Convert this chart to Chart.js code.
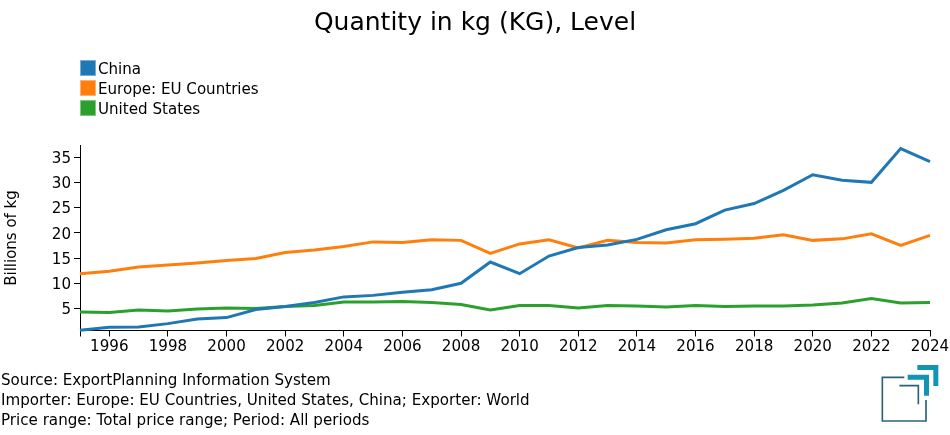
<!DOCTYPE html>
<html>
<head>
<meta charset="utf-8">
<style>
html,body{margin:0;padding:0;background:#fff;}
#wrap{position:relative;width:950px;height:435px;overflow:hidden;font-family:"DejaVu Sans",sans-serif;color:#000;}
canvas{position:absolute;left:0;top:0;}
.lg{position:absolute;left:79.5px;height:16px;font-size:15.1px;line-height:16px;white-space:nowrap;}
.lg i{position:absolute;left:0;top:0;width:14px;height:14px;border:1px solid rgba(255,255,255,.4);}
.lg span{position:absolute;left:18.5px;top:0.7px;}
.ft{position:absolute;left:1px;font-size:15.12px;line-height:20px;white-space:nowrap;}
svg{position:absolute;left:860px;top:355px;}
</style>
</head>
<body>
<div id="wrap">
<canvas id="c" width="950" height="435"></canvas>
<div id="legend"></div>
<div class="ft" style="top:369.5px">Source: ExportPlanning Information System</div>
<div class="ft" style="top:389.5px">Importer: Europe: EU Countries, United States, China; Exporter: World</div>
<div class="ft" style="top:409.5px">Price range: Total price range; Period: All periods</div>
<svg width="90" height="75" viewBox="0 0 270 225" fill="none">
<path d="M133 67H67V198H198V135" stroke="#2b6478" stroke-width="5"/>
<path d="M118 92H175V148" stroke="#2b6478" stroke-width="5"/>
<path d="M143 66.5H199.5V122" stroke="#1295b5" stroke-width="15"/>
<path d="M172 37.5H227.5V93" stroke="#1295b5" stroke-width="15"/>
</svg>
</div>
<script src="https://cdn.jsdelivr.net/npm/chart.js@4"></script>
<script>
const years = [1995,1996,1997,1998,1999,2000,2001,2002,2003,2004,2005,2006,2007,2008,2009,2010,2011,2012,2013,2014,2015,2016,2017,2018,2019,2020,2021,2022,2023,2024];
const china = [0.7,1.3,1.35,2.0,2.9,3.2,4.8,5.4,6.2,7.3,7.6,8.2,8.7,10.0,14.2,11.9,15.4,17.1,17.6,18.7,20.6,21.8,24.5,25.8,28.4,31.5,30.4,30.0,36.7,34.1];
const eu = [11.9,12.4,13.2,13.6,14.0,14.5,14.9,16.1,16.6,17.3,18.2,18.1,18.6,18.5,15.9,17.8,18.6,17.0,18.5,18.1,18.0,18.6,18.7,18.9,19.6,18.5,18.8,19.8,17.5,19.5];
const us = [4.3,4.2,4.7,4.5,4.9,5.1,5.0,5.4,5.6,6.3,6.3,6.4,6.2,5.8,4.7,5.6,5.6,5.1,5.6,5.5,5.3,5.6,5.4,5.5,5.5,5.7,6.1,7.0,6.1,6.2];
const seriesNames = ["China","Europe: EU Countries","United States"];
const seriesColors = ["#1f77b4","#ff7f0e","#2ca02c"];
const xTicks = [1995,1996,1998,2000,2002,2004,2006,2008,2010,2012,2014,2016,2018,2020,2022,2024];
const yTicks = [5,10,15,20,25,30,35];
const FONT = '"DejaVu Sans"';

const seriesValues = [china, eu, us];
const datasets = seriesNames.map((n,i)=>({
  label:n,
  data:years.map((y,j)=>({x:y,y:seriesValues[i][j]})),
  borderColor:seriesColors[i],
  backgroundColor:seriesColors[i],
  borderWidth:3,
  pointRadius:0,
  tension:0,
  fill:false,
  clip:false
}));

const legendEl=document.getElementById('legend');
seriesNames.forEach((n,i)=>{
  const d=document.createElement('div');
  d.className='lg';
  d.style.top=(60+i*20)+'px';
  const sw=document.createElement('i');
  sw.style.background=seriesColors[i];
  const t=document.createElement('span');
  t.textContent=n;
  d.appendChild(sw);d.appendChild(t);
  legendEl.appendChild(d);
});

function nudgeLabels(scale,dy){
  const orig=scale._computeLabelItems;
  scale._computeLabelItems=function(ca){
    const items=orig.call(this,ca);
    items.forEach(it=>{it.options.translation=[it.options.translation[0],it.options.translation[1]+dy];});
    return items;
  };
}

new Chart(document.getElementById('c'),{
  type:'line',
  data:{datasets},
  options:{
    responsive:false,
    animation:false,
    devicePixelRatio:1,
    layout:{padding:0},
    plugins:{
      legend:{display:false},
      tooltip:{enabled:false},
      title:{display:true,text:'Quantity in kg (KG), Level',color:'#000',
        font:{family:FONT,size:25,weight:'normal',lineHeight:1.2},
        padding:{top:8,bottom:107.5}}
    },
    scales:{
      x:{
        type:'linear',min:1995,max:2024,
        afterBuildTicks:s=>{s.ticks=xTicks.map(v=>({value:v}));},
        afterFit:s=>{s.height=104.5;s.paddingRight=20;s.paddingLeft=0;},
        border:{display:true,color:'#000',width:1},
        grid:{display:true,drawOnChartArea:false,drawTicks:true,tickLength:6,tickColor:'#000'},
        ticks:{autoSkip:false,maxRotation:0,minRotation:0,color:'#000',padding:2,
          font:{family:FONT,size:15.1},
          callback:v=>v===1995?'':String(v)}
      },
      y:{
        type:'linear',min:0.64,max:37.3,
        afterBuildTicks:s=>{s.ticks=yTicks.map(v=>({value:v}));},
        afterFit:s=>{s.width=80;nudgeLabels(s,1);},
        border:{display:true,color:'#000',width:1},
        grid:{display:true,drawOnChartArea:false,drawTicks:true,tickLength:6,tickColor:'#000'},
        title:{display:true,text:'Billions of kg',color:'#000',font:{family:FONT,size:15},padding:{top:3.5,bottom:0}},
        ticks:{color:'#000',padding:3,font:{family:FONT,size:15.1},callback:v=>String(v)}
      }
    }
  }
});
</script>
</body>
</html>
